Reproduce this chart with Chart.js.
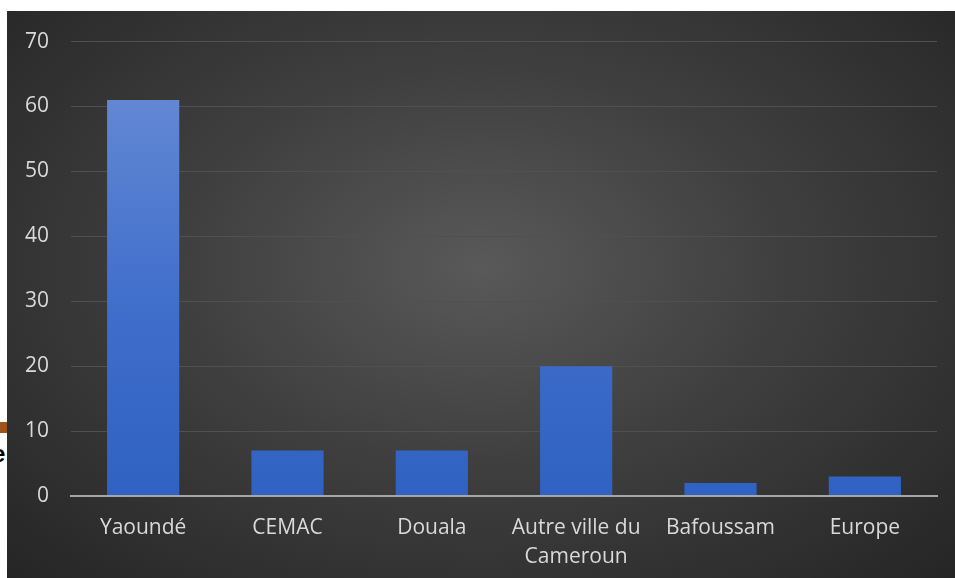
<!DOCTYPE html>
<html>
<head>
<meta charset="utf-8">
<script src="https://cdn.jsdelivr.net/npm/chart.js@4.4.0/dist/chart.umd.min.js"></script>
<style>
  html, body { margin: 0; padding: 0; background: #fff; }
  #wrap { position: absolute; left: 7px; top: 11px; width: 948px; height: 567px; overflow: hidden;
          background: radial-gradient(ellipse at 50% 45%, #595959 0%, #3f3f3f 45%, #252525 100%); }
  #mycanvas { position: absolute; left: 0; top: -4px; }
  #mark { position: absolute; left: 0; top: 422px; width: 7px; height: 11px; background: #a0521a; }
  #glyph { position: absolute; left: -8px; top: 440px; font: bold 24px "Liberation Sans", sans-serif; color: #000; }
</style>
</head>
<body>
<div id="mark"></div>
<div id="glyph">e</div>
<div id="wrap"><canvas id="mycanvas" width="948" height="571"></canvas></div>
<script>
// lieux d'origine et effectifs
var categories = ['Yaoundé', 'CEMAC', 'Douala', ['Autre ville du', 'Cameroun'], 'Bafoussam', 'Europe'];
var values = [61, 7, 7, 20, 2, 3];
var yTicks = [0, 10, 20, 30, 40, 50, 60, 70];

var ctx = document.getElementById('mycanvas').getContext('2d');

function barFill(context) {
	var chart = context.chart;
	var area = chart.chartArea;
	if (!area) return '#4472c4';
	var g = chart.ctx.createLinearGradient(0, area.top, 0, area.bottom);
	g.addColorStop(0, '#6b8fd6');
	g.addColorStop(0.6, '#3f6dcb');
	g.addColorStop(1, '#2f62c2');
	return g;
}

var LineGraph = new Chart(ctx, {
	type: 'bar',
	data: {
		labels: categories,
		datasets: [{
			data: values,
			backgroundColor: barFill,
			borderWidth: 0,
			categoryPercentage: 1,
			barPercentage: 0.5
		}]
	},
	options: {
		responsive: false,
		animation: false,
		layout: { padding: { left: 0, right: 18, top: 16, bottom: 1 } },
		plugins: { legend: { display: false }, tooltip: { enabled: false } },
		scales: {
			x: {
				afterFit: function (scale) { scale.height = 81; },
				grid: { display: false, drawTicks: false },
				border: { display: true, color: '#a6a6a6', width: 2, z: 1 },
				ticks: {
					color: '#d9d9d9',
					padding: 17,
					maxRotation: 0,
					font: { family: 'Open Sans', size: 21, lineHeight: 1.4 }
				}
			},
			y: {
				min: 0,
				max: 70,
				afterFit: function (scale) { scale.width = 64; },
				afterBuildTicks: function (scale) { scale.ticks = yTicks.map(function (v) { return { value: v }; }); },
				grid: { color: '#505050', lineWidth: 1, drawTicks: false },
				border: { display: false },
				ticks: {
					color: '#d9d9d9',
					padding: 22,
					font: { family: 'Open Sans', size: 21 }
				}
			}
		}
	}
});
</script>
</body>
</html>
